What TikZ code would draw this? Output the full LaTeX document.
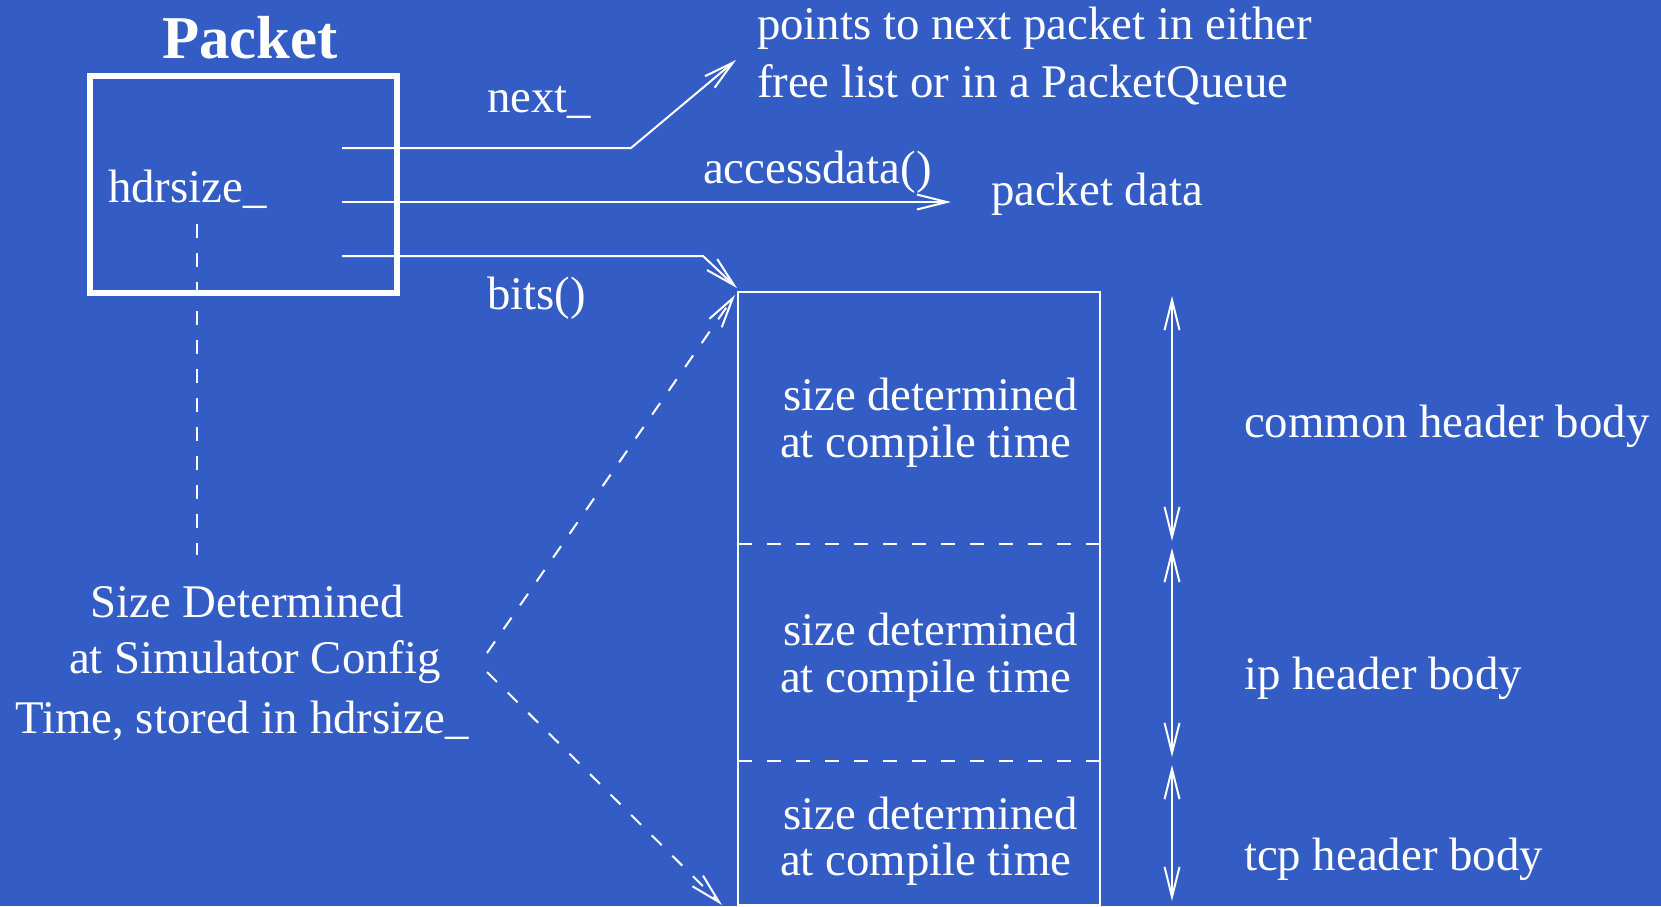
\documentclass[tikz,border=0pt]{standalone}
\usepackage{fontspec}
\setmainfont{Liberation Serif}
\usetikzlibrary{arrows.meta}
\definecolor{bg}{RGB}{51,93,197}
\begin{document}
\begin{tikzpicture}[x=0.5pt,y=-0.5pt,
  lbl/.style={text=white, inner sep=0pt, outer sep=0pt, font=\fontsize{23.4}{28}\selectfont, anchor=base west},
  lblc/.style={lbl, anchor=base},
  tipv/.style={-{Straight Barb[length=15pt,width=7.5pt]}},
  conn/.style={draw=white, line width=1pt, tipv},
  dconn/.style={conn, dash pattern=on 7pt off 7.5pt},
  dbl/.style={draw=white, line width=1pt, {Straight Barb[length=15pt,width=7.5pt]}-{Straight Barb[length=15pt,width=7.5pt]}},
  sep/.style={draw=white, line width=1pt, dash pattern=on 7pt off 7.5pt},
  thinline/.style={draw=white, line width=1pt}]
\fill[bg] (0,0) rectangle (1661,906);
\useasboundingbox (0,0) rectangle (1661,906);

% Packet box
\node (pkt) [draw=white, line width=3pt, inner sep=0pt, outer sep=0pt,
  minimum width=153.5pt, minimum height=108.5pt] at (243.5,184.5) {};
\node (pkttitle) [lblc, font=\fontsize{30.4}{36}\selectfont\bfseries] at (250,58) {Packet};
\node (hdr) [lbl] at (108,202) {hdrsize\_};

% header box
\node (hbox) [draw=white, line width=1pt, inner sep=0pt, outer sep=0pt,
  minimum width=181pt, minimum height=306.5pt] at (919,598.5) {};
\coordinate (s1l) at (738,544); \coordinate (s1r) at (1100,544);
\coordinate (s2l) at (738,761); \coordinate (s2r) at (1100,761);
\draw[sep] (s1l) -- (s1r);
\draw[sep] (s2l) -- (s2r);

% labels
\node (nextlbl) [lbl] at (487,112) {next\_};
\node (acclbl) [lbl] at (703,183) {accessdata()};
\node (bitslbl) [lbl] at (487,309) {bits()};
\node (pdata) [lbl] at (991,205) {packet data};
\node (pt1) [lbl] at (757,39) {points to next packet in either};
\node (pt2) [lbl] at (757,97) {free list or in a PacketQueue};

\node (sz1) [lblc] at (247,617) {Size Determined};
\node (sz2) [lblc] at (255,673) {at Simulator Config};
\node (sz3) [lblc] at (242,733) {Time, stored in hdrsize\_};

\node (b1a) [lbl] at (783,410) {size determined};
\node (b1b) [lbl] at (780,457) {at compile time};
\node (b2a) [lbl] at (783,645) {size determined};
\node (b2b) [lbl] at (780,692) {at compile time};
\node (b3a) [lbl] at (783,829) {size determined};
\node (b3b) [lbl] at (780,875) {at compile time};

\node (common) [lbl] at (1244,437) {common header body};
\node (ip) [lbl] at (1244,689) {ip header body};
\node (tcp) [lbl] at (1244,870) {tcp header body};

% connectors from packet
\coordinate (nS) at (342,148); \coordinate (nK) at (631,148); \coordinate (nE) at (736,60);
\coordinate (aS) at (342,202); \coordinate (aE) at (951,202);
\coordinate (bS) at (342,256); \coordinate (bK) at (703,256); \coordinate (bE) at (737,288);
\draw[conn] (nS) -- (nK) -- (nE);
\draw[conn] (aS) -- (aE);
\draw[conn] (bS) -- (bK) -- (bE);

% dashed
\coordinate (hs1) at (197,224); \coordinate (hs2) at (197,555);
\draw[sep] (hs1) -- (hs2);
\coordinate (d1S) at (487,653); \coordinate (d1E) at (735,295);
\coordinate (d2S) at (487,672); \coordinate (d2E) at (722,905);
\draw[dconn] (d1S) -- (d1E);
\draw[dconn] (d2S) -- (d2E);

% double arrows
\coordinate (r1a) at (1172,296); \coordinate (r1b) at (1172,541);
\coordinate (r2a) at (1172,548); \coordinate (r2b) at (1172,757);
\coordinate (r3a) at (1172,765); \coordinate (r3b) at (1172,901);
\draw[dbl] (r1a) -- (r1b);
\draw[dbl] (r2a) -- (r2b);
\draw[dbl] (r3a) -- (r3b);
\end{tikzpicture}
\end{document}
